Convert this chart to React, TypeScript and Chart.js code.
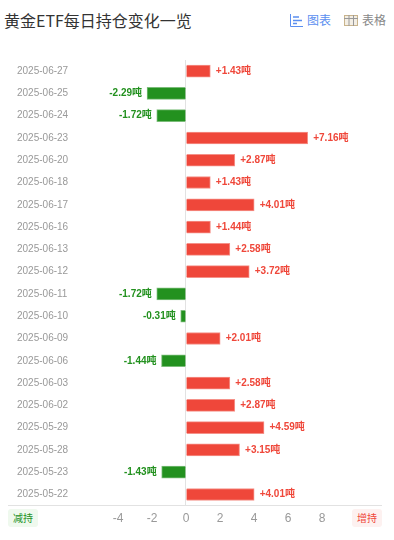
import React, { useEffect, useRef } from "react";
import { Chart, registerables } from "chart.js";

Chart.register(...registerables);

const dates = ["2025-06-27","2025-06-25","2025-06-24","2025-06-23","2025-06-20","2025-06-18","2025-06-17","2025-06-16","2025-06-13","2025-06-12","2025-06-11","2025-06-10","2025-06-09","2025-06-06","2025-06-03","2025-06-02","2025-05-29","2025-05-28","2025-05-23","2025-05-22"];
const changes = [1.43,-2.29,-1.72,7.16,2.87,1.43,4.01,1.44,2.58,3.72,-1.72,-0.31,2.01,-1.44,2.58,2.87,4.59,3.15,-1.43,4.01];
const axisTicks = [-4,-2,0,2,4,6,8];
const markRows = [-16,90,196,302,408,514];
const urlRows = [55,160,266,372,478];
const UP = "#ef473a";
const DOWN = "#23911f";
const FONT = '"Noto Sans CJK SC", "Liberation Sans", sans-serif';
const LATIN = '"Liberation Sans", "Noto Sans CJK SC", sans-serif';

const valueLabels = {
  id: "valueLabels",
  afterDatasetsDraw(chart: any) {
    const { ctx } = chart;
    const meta = chart.getDatasetMeta(0);
    ctx.save();
    ctx.font = `bold 10px ${LATIN}`;
    ctx.textBaseline = "middle";
    meta.data.forEach((el: any, i: number) => {
      const v = changes[i];
      ctx.fillStyle = v >= 0 ? UP : DOWN;
      ctx.textAlign = v >= 0 ? "left" : "right";
      const t = (v >= 0 ? "+" : "") + v.toFixed(2) + "吨";
      ctx.fillText(t, el.x + (v >= 0 ? 5.5 : -5), el.y);
    });
    ctx.restore();
  },
};

const Watermark = ({ x, y, text, size }: any) => (
  <div style={{ position: "absolute", left: x, top: y, transform: "translate(-50%,-50%) rotate(-20deg)", font: `bold ${size}px ${FONT}`, color: "rgba(0,0,0,0.022)", whiteSpace: "nowrap", letterSpacing: 1 }}>{text}</div>
);

export default function App() {
  const ref = useRef<HTMLCanvasElement>(null);
  useEffect(() => {
    const chart = new Chart(ref.current!, {
      type: "bar",
      data: {
        labels: dates,
        datasets: [{
          data: changes,
          backgroundColor: changes.map((v) => (v >= 0 ? UP : DOWN)),
          borderColor: changes.map((v) => (v >= 0 ? "rgba(239,71,58,0.6)" : "rgba(35,145,31,0.6)")),
          borderWidth: 1,
          barThickness: 12,
        }],
      },
      options: {
        indexAxis: "y",
        animation: false,
        responsive: false,
        layout: { padding: 0 },
        plugins: { legend: { display: false }, tooltip: { enabled: false } },
        scales: {
          x: {
            min: -10.47,
            max: 11.53,
            afterBuildTicks: (axis: any) => { axis.ticks = axisTicks.map((value) => ({ value })); },
            ticks: { color: "#999", font: { size: 12, family: LATIN }, padding: 6, maxRotation: 0, autoSkip: false },
            grid: { drawTicks: false, color: (c: any) => (c.tick && c.tick.value === 0 ? "#e2e2e2" : "transparent") },
            border: { color: "#e2e2e2" },
          },
          y: {
            offset: true,
            afterFit: (axis: any) => { axis.width = 0; axis.paddingTop = 0; axis.paddingBottom = 0; },
            ticks: { mirror: true, padding: 9, color: "#999", font: { size: 10, family: LATIN }, autoSkip: false },
            grid: { display: false },
            border: { display: false },
          },
        },
      },
      plugins: [valueLabels],
    } as any);
    return () => chart.destroy();
  }, []);
  return (
    <div style={{ position: "absolute", left: 0, top: 0, width: 394, height: 540, overflow: "hidden", background: "#fff", fontFamily: FONT }}>
      {markRows.map((y) => <Watermark key={"a" + y} x={30} y={y} text="金十数据" size={20} />)}
      {markRows.map((y) => <Watermark key={"b" + y} x={292} y={y} text="金十数据" size={20} />)}
      {urlRows.map((y) => <Watermark key={"c" + y} x={141} y={y} text="JIN10.COM" size={13} />)}
      {urlRows.map((y) => <Watermark key={"d" + y} x={401} y={y} text="JIN10.COM" size={13} />)}
      <div style={{ position: "absolute", left: 4, top: 9, fontSize: 16, lineHeight: "22px", color: "#333", whiteSpace: "nowrap" }}>黄金ETF每日持仓变化一览</div>
      <svg style={{ position: "absolute", left: 290, top: 14 }} width="13" height="13" viewBox="0 0 13 13">
        <path d="M0.5 0V12.5H13" fill="none" stroke="#5b8ff0" />
        <path d="M3 3H9M3 6.5H12M3 9.5H7" fill="none" stroke="#5b8ff0" strokeWidth="1.5" />
      </svg>
      <div style={{ position: "absolute", left: 307, top: 11, fontSize: 12, lineHeight: "18px", color: "#5b8ff0" }}>图表</div>
      <svg style={{ position: "absolute", left: 344, top: 15 }} width="14" height="11" viewBox="0 0 14 11">
        <rect x="0.5" y="0.5" width="13" height="10" fill="#f3eee4" stroke="#c9b48c" />
        <path d="M0 3.5H14M5 0V11M9.5 0V11" fill="none" stroke="#999" />
      </svg>
      <div style={{ position: "absolute", left: 362, top: 11, fontSize: 12, lineHeight: "18px", color: "#888" }}>表格</div>
      <canvas ref={ref} width={374} height={472} style={{ position: "absolute", left: 8, top: 60, width: 374, height: 472 }} />
      <div style={{ position: "absolute", left: 8, top: 509, width: 30, height: 18, background: "#eff9ee", borderRadius: 3, color: DOWN, fontSize: 10, lineHeight: "18px", textAlign: "center" }}>减持</div>
      <div style={{ position: "absolute", left: 352, top: 509, width: 30, height: 18, background: "#fdf1f0", borderRadius: 3, color: UP, fontSize: 10, lineHeight: "18px", textAlign: "center" }}>增持</div>
    </div>
  );
}
